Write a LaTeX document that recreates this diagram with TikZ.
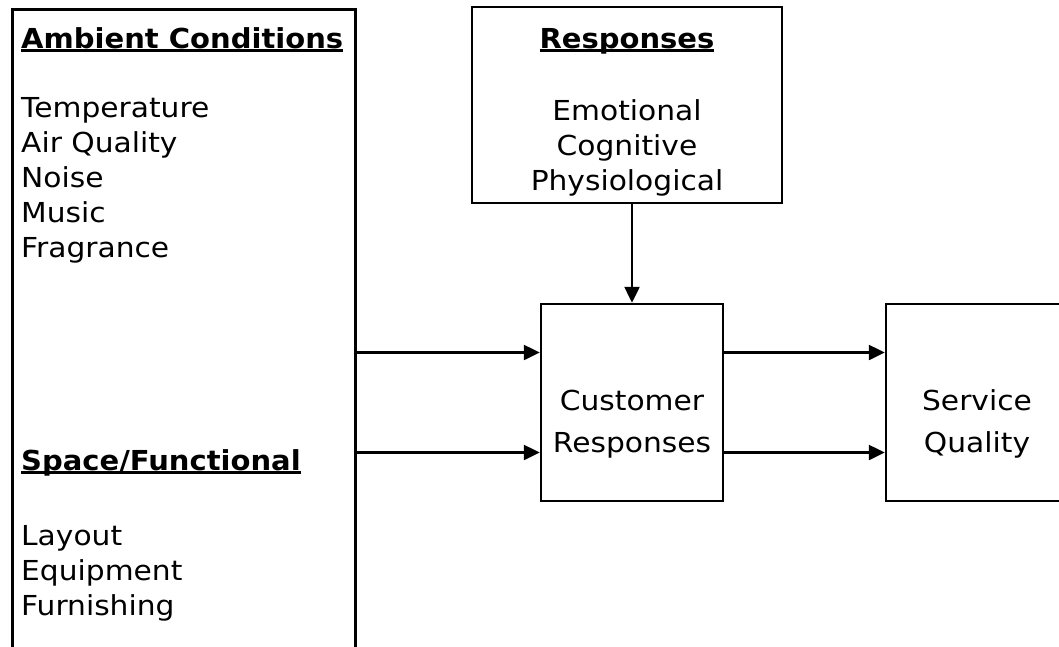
\documentclass[tikz,border=0pt]{standalone}
\usepackage{fontspec}
\setmainfont{DejaVu Sans}[FakeStretch=1.08, BoldFeatures={FakeStretch=1.055}]
\usetikzlibrary{arrows.meta}

\tikzset{
  box/.style={draw, line width=2.5pt, inner sep=0pt},
  link/.style={line width=2.5pt, -{Triangle[length=16pt,width=15pt]}},
  item/.style={anchor=base west, inner sep=0pt},
  citem/.style={anchor=base, inner sep=0pt},
}
% bold heading with a rule just under the baseline
\newcommand{\heading}[1]{\sbox0{\bfseries #1}\rlap{\rule[-3.5pt]{\wd0}{2.3pt}}\box0}

\begin{document}
\begin{tikzpicture}[x=1pt, y=-1pt, font=\fontsize{27.5pt}{35pt}\selectfont]
      \useasboundingbox (0,0) rectangle (1059,646);
      \clip (0,0) rectangle (1059,646);
      % boxes
      \node[box, anchor=north west, minimum width=343pt, minimum height=700pt] (env) at (11,8) {};
      \node[box, minimum width=310pt, minimum height=196pt] (resp) at (627,105) {};
      \node[box, minimum width=182pt, minimum height=197pt] (cust) at (632,402.5) {};
      \node[box, minimum width=182pt, minimum height=197pt] (serv) at (977,402.5) {};
      % left panel
      \node[item] (ambhead) at (21,48) {\heading{Ambient Conditions}};
      \foreach \t [count=\i] in {Temperature,Air Quality,Noise,Music,Fragrance}
        \node[item] (amb\i) at (21,82+35*\i) {\t};
      \node[item] (spchead) at (21,470) {\heading{Space/Functional}};
      \foreach \t [count=\i] in {Layout,Equipment,Furnishing}
        \node[item] (spc\i) at (21,510+35*\i) {\t};
      % responses
      \node[citem] (resphead) at (627,48) {\heading{Responses}};
      \foreach \t [count=\i] in {Emotional,Cognitive,Physiological}
        \node[citem] (resp\i) at (627,85+35*\i) {\t};
      % customer responses and service quality
      \node[citem] (cust1) at (632,410) {Customer};
      \node[citem] (cust2) at (632,452) {Responses};
      \node[citem] (serv1) at (977,410) {Service};
      \node[citem] (serv2) at (977,452) {Quality};
      \coordinate (custin1) at ([yshift=50pt]cust.west);
      \coordinate (custin2) at ([yshift=-50pt]cust.west);
      \coordinate (custout1) at ([yshift=50pt]cust.east);
      \coordinate (custout2) at ([yshift=-50pt]cust.east);
      \begin{scope}[link]
        \draw (resp.south -| cust.north) to (cust.north);
        \draw (env.east |- custin1) to (custin1);
        \draw (env.east |- custin2) to (custin2);
        \draw (custout1) to (serv.west |- custout1);
        \draw (custout2) to (serv.west |- custout2);
      \end{scope}
    \end{tikzpicture}
\end{document}
